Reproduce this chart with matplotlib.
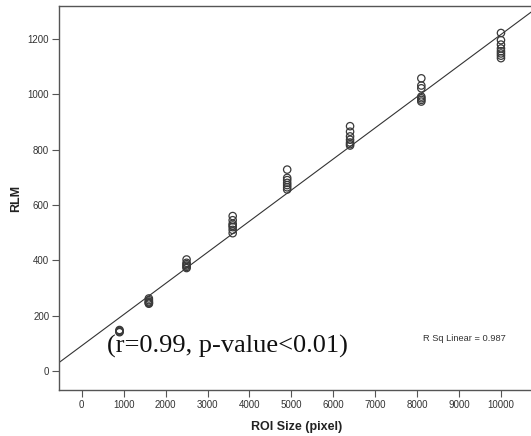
import numpy as np
import matplotlib
matplotlib.use("Agg")
import matplotlib.pyplot as plt

# ROI sizes (pixel) and RLM readings for each group
roi_groups = [900, 1600, 2500, 3600, 4900, 6400, 8100, 10000]
rlm_900 = [148, 145, 142, 140]
rlm_1600 = [262, 256, 251, 248, 245, 243]
rlm_2500 = [403, 391, 386, 381, 376, 372]
rlm_3600 = [560, 545, 532, 526, 520, 510, 498]
rlm_4900 = [728, 698, 690, 680, 672, 664, 656]
rlm_6400 = [885, 865, 848, 836, 826, 820, 815]
rlm_8100 = [1058, 1032, 1022, 992, 986, 980, 974]
rlm_10000 = [1222, 1196, 1180, 1166, 1156, 1148, 1140, 1131]
rlm_values = [rlm_900, rlm_1600, rlm_2500, rlm_3600, rlm_4900, rlm_6400, rlm_8100, rlm_10000]

x_ticks = [0, 1000, 2000, 3000, 4000, 5000, 6000, 7000, 8000, 9000, 10000]
y_ticks = [0, 200, 400, 600, 800, 1000, 1200]

xs = np.concatenate([[g] * len(v) for g, v in zip(roi_groups, rlm_values)])
ys = np.concatenate(rlm_values)
group_means = [np.mean(v) for v in rlm_values]

fig = plt.figure(figsize=(5.31, 4.36), dpi=100)
ax = fig.add_axes([0.111, 0.1055, 0.8956, 0.881])

xlim = (-545, 10800)
ylim = (-69, 1320)
ax.set_xlim(*xlim)
ax.set_ylim(*ylim)

slope, intercept = np.polyfit(roi_groups, group_means, 1)
lx = np.array(xlim)
ax.plot(lx, slope * lx + intercept, color="#333333", lw=0.8, zorder=2)

ax.scatter(xs, ys, s=28, facecolors="none", edgecolors="#3a3a3a", linewidths=0.9, zorder=3)

spine_c = "#555555"
for side in ["top", "right", "left", "bottom"]:
    ax.spines[side].set_color(spine_c)
    ax.spines[side].set_linewidth(1.0)

ax.set_xticks(x_ticks)
ax.set_yticks(y_ticks)
ax.tick_params(axis="both", direction="out", length=5, width=0.8, color=spine_c,
               labelsize=7, labelcolor="#333333", pad=2)
for lab in ax.get_xticklabels() + ax.get_yticklabels():
    lab.set_family("Liberation Sans")

ax.set_xlabel("ROI Size (pixel)", fontsize=9, fontweight="bold", family="Liberation Sans",
              color="#222222", labelpad=8)
ax.set_ylabel("RLM", fontsize=9, fontweight="bold", family="Liberation Sans",
              color="#222222", labelpad=4)

ax.text(600, 90, "(r=0.99, p-value<0.01)", fontsize=19, family="Liberation Serif",
        color="#111111", ha="left", va="center", zorder=4)
ax.text(8140, 119, "R Sq Linear = 0.987", fontsize=6.7, family="Liberation Sans",
        color="#333333", ha="left", va="center")

fig.savefig("out.png", dpi=100)
